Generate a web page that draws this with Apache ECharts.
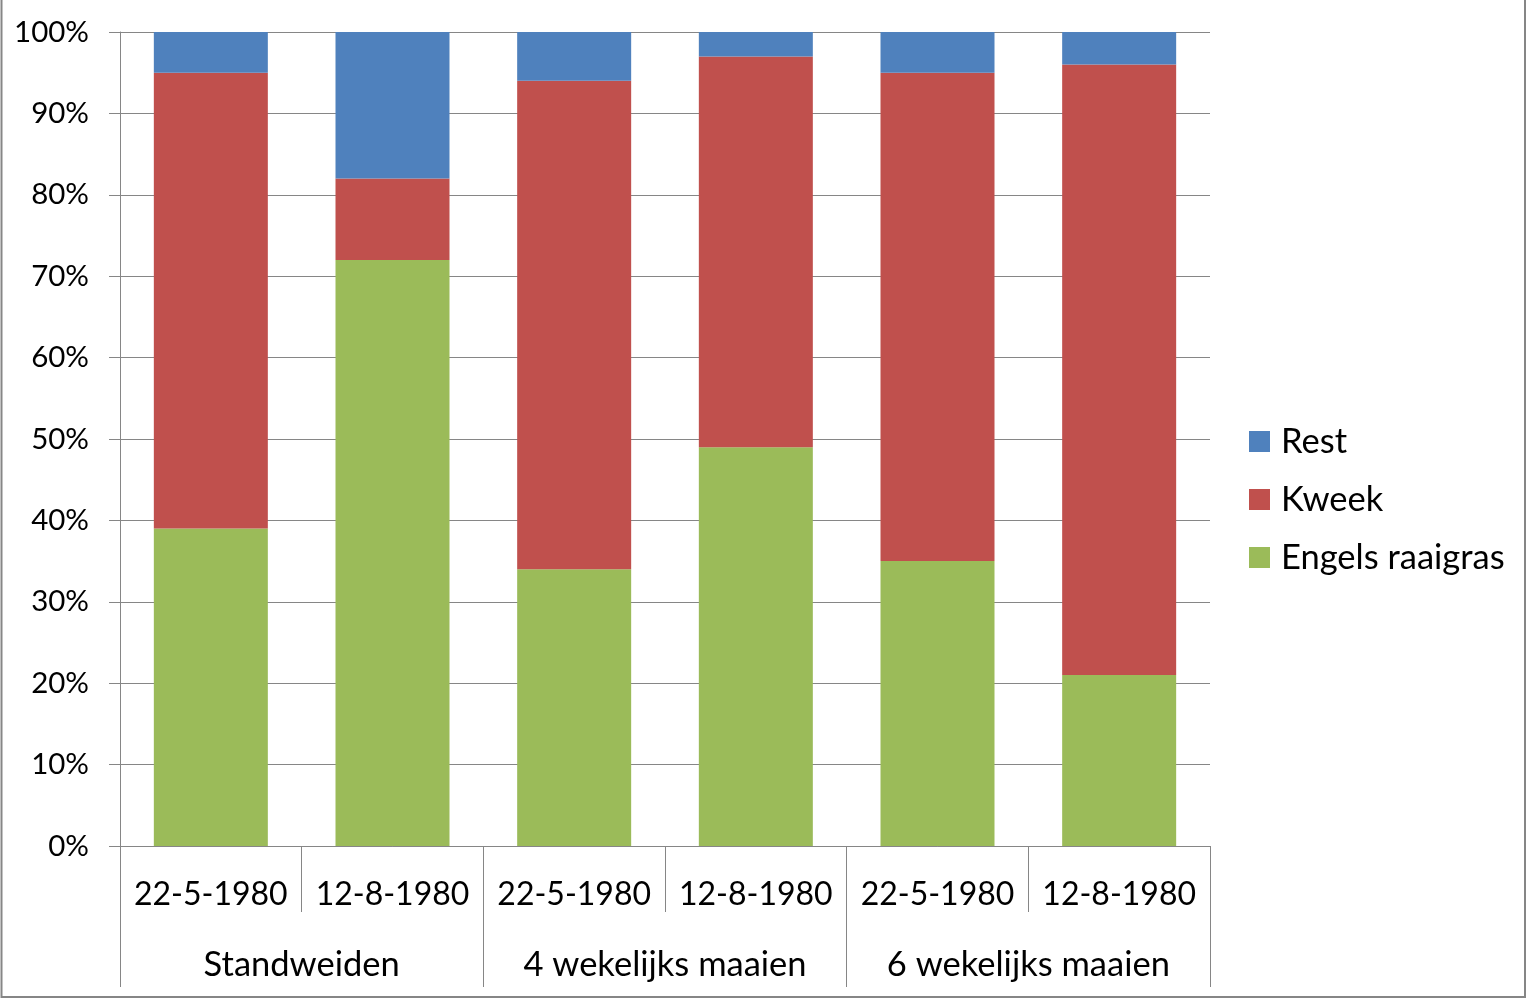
<!DOCTYPE html>
<html>
<head>
<meta charset="utf-8">
<script src="https://cdn.jsdelivr.net/npm/echarts@6/dist/echarts.min.js"></script>
<style>
html,body{margin:0;padding:0;background:#fff;}
#chart{width:1528px;height:999px;}
</style>
</head>
<body>
<div id="chart"></div>
<script>
var dates = ['22-5-1980','12-8-1980','22-5-1980','12-8-1980','22-5-1980','12-8-1980'];
var groups = ['Standweiden','4 wekelijks maaien','6 wekelijks maaien'];
var engels = [39, 72, 34, 49, 35, 21];
var kweek = [56, 10, 60, 48, 60, 75];
var rest = [5, 18, 6, 3, 5, 4];
var yTicks = [0,10,20,30,40,50,60,70,80,90,100];

var FONT = 'Lato';
var GRAY = '#868686';
var chart = echarts.init(document.getElementById('chart'));
chart.setOption({
  animation: false,
  backgroundColor: '#fff',
  textStyle: {fontFamily: FONT, color: '#000'},
  graphic: [{
    type: 'rect', silent: true,
    shape: {x: 1.5, y: -2, width: 1523.5, height: 999},
    style: {fill: 'none', stroke: GRAY, lineWidth: 2}
  }],
  grid: {left: 120, right: 318, top: 32, bottom: 153, containLabel: false},
  legend: {
    orient: 'vertical', left: 1249, top: 424, padding: 0,
    itemWidth: 21, itemHeight: 21, itemGap: 23,
    icon: 'rect',
    data: ['Rest','Kweek','Engels raaigras'],
    textStyle: {fontFamily: FONT, fontSize: 34.5, color: '#000', lineHeight: 35, padding: [0,0,0,6]}
  },
  xAxis: [{
    type: 'category', data: dates, gridIndex: 0, position: 'bottom',
    axisLine: {show: true, lineStyle: {color: GRAY, width: 1}},
    axisTick: {show: true, interval: 0, length: 66, lineStyle: {color: GRAY, width: 1}},
    axisLabel: {interval: 0, fontFamily: FONT, fontSize: 32, color: '#000', margin: 33, lineHeight: 32}
  }, {
    type: 'category', data: groups, gridIndex: 0, position: 'bottom',
    axisLine: {show: false},
    axisTick: {show: true, interval: 0, length: 141, lineStyle: {color: GRAY, width: 1}},
    axisLabel: {interval: 0, fontFamily: FONT, fontSize: 34.5, color: '#000', margin: 102, lineHeight: 34}
  }],
  yAxis: {
    type: 'value', min: 0, max: 100, interval: 10,
    axisLine: {show: true, lineStyle: {color: GRAY, width: 1}},
    axisTick: {show: true, length: 11, lineStyle: {color: GRAY, width: 1}},
    splitLine: {show: true, lineStyle: {color: GRAY, width: 1}},
    axisLabel: {fontFamily: FONT, fontSize: 29.5, color: '#000', margin: 31, formatter: '{value}%'}
  },
  series: [
    {name: 'Engels raaigras', type: 'bar', stack: 'a', data: engels, barWidth: 114, itemStyle: {color: '#9BBB59'}},
    {name: 'Kweek', type: 'bar', stack: 'a', data: kweek, barWidth: 114, itemStyle: {color: '#C0504D'}},
    {name: 'Rest', type: 'bar', stack: 'a', data: rest, barWidth: 114, itemStyle: {color: '#4F81BD'}}
  ]
});
</script>
</body>
</html>
